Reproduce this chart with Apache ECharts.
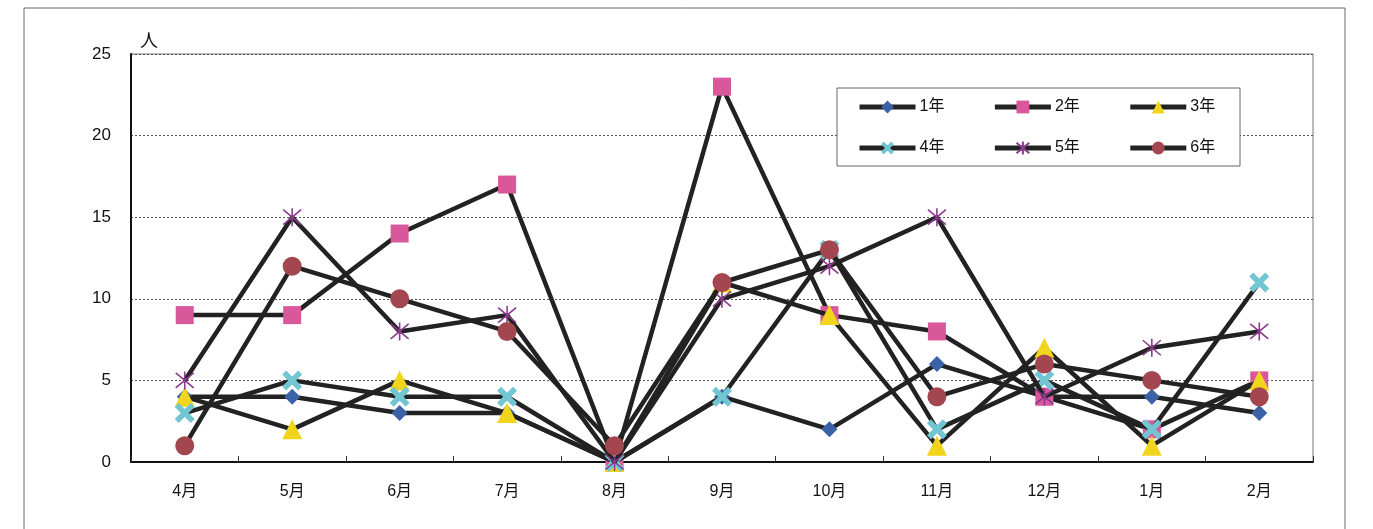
<!DOCTYPE html>
<html><head><meta charset="utf-8">
<script src="https://cdn.jsdelivr.net/npm/echarts@6/dist/echarts.min.js"></script>
<style>html,body{margin:0;padding:0;background:#fff}#c{width:1373px;height:529px}</style>
</head><body><div id="c"></div>
<script>
const months = ['4月','5月','6月','7月','8月','9月','10月','11月','12月','1月','2月'];
const seriesNames = ['1年','2年','3年','4年','5年','6年'];
const g1 = [4,4,3,3,0,4,2,6,4,4,3];
const g2 = [9,9,14,17,0,23,9,8,4,2,5];
const g3 = [4,2,5,3,0,11,9,1,7,1,5];
const g4 = [3,5,4,4,0,4,13,2,5,2,11];
const g5 = [5,15,8,9,0,10,12,15,4,7,8];
const g6 = [1,12,10,8,1,11,13,4,6,5,4];
const yTicks = [0,5,10,15,20,25];

const font = '"Liberation Sans","Noto Sans CJK JP",sans-serif';
const crossPath = 'path://M0,2 L2,0 L5,3 L8,0 L10,2 L7,5 L10,8 L8,10 L5,7 L2,10 L0,8 L3,5 Z';
const starPath = 'path://M0,0 L10,10 M10,0 L0,10 M5,-1 L5,11';
const styles = [
  {symbol:'diamond', size:16, color:'#3b62a6'},
  {symbol:'rect', size:18, color:'#d9579b'},
  {symbol:'triangle', size:20, color:'#f1d51c'},
  {symbol:crossPath, size:20, color:'#72c6d2'},
  {symbol:starPath, size:18, color:'#8b3b8e', stroke:true},
  {symbol:'circle', size:19, color:'#a4464f'}
];
const data = [g1,g2,g3,g4,g5,g6];

const legendBase = {
  orient:'horizontal', left:857, itemWidth:56, itemHeight:16, itemGap:48, padding:0,
  lineStyle:{width:5, color:'#222'},
  textStyle:{fontSize:16, color:'#111', fontFamily:font, padding:[0,0,0,-1]}
};

const chart = echarts.init(document.getElementById('c'));
chart.setOption({
  animation:false,
  backgroundColor:'#fff',
  textStyle:{fontFamily:font},
  graphic:[
    {type:'rect', shape:{x:24,y:8,width:1321,height:540}, style:{fill:'none', stroke:'#666', lineWidth:1}, z:-1},
    {type:'rect', shape:{x:837,y:88,width:403,height:78}, style:{fill:'#fff', stroke:'#666', lineWidth:1}, z:5},
    {type:'text', left:140, top:33, style:{text:'人', font:'18px '+font, fill:'#111'}}
  ],
  grid:{left:131, right:60, top:54, bottom:67, show:true, borderColor:'#777', borderWidth:1},
  legend:[
    Object.assign({}, legendBase, {data:seriesNames.slice(0,3), top:99, z:10}),
    Object.assign({}, legendBase, {data:seriesNames.slice(3), top:140, z:10})
  ],
  xAxis:{type:'category', data:months, boundaryGap:true,
    axisLine:{lineStyle:{color:'#111', width:2}},
    axisTick:{show:true, alignWithLabel:false, length:-6, lineStyle:{color:'#333'}},
    axisLabel:{fontSize:16, color:'#111', margin:22}
  },
  yAxis:{type:'value', min:0, max:25, interval:5,
    axisLine:{show:true, lineStyle:{color:'#111', width:2}},
    axisTick:{show:false},
    axisLabel:{fontSize:17, color:'#111', margin:20, formatter:v=>yTicks.includes(v)?String(v):''},
    splitLine:{lineStyle:{color:'#555', type:[2,2], width:1}}
  },
  series: data.map((d,i)=>({
    name:seriesNames[i], type:'line', data:d,
    symbol:styles[i].symbol, symbolSize:styles[i].size, showAllSymbol:true,
    lineStyle:{color:'#222', width:4.5},
    itemStyle: styles[i].stroke ? {color:styles[i].color, borderColor:styles[i].color, borderWidth:1.6}
                                : {color:styles[i].color, borderWidth:0},
    emphasis:{disabled:true}, z:2+i
  }))
});
</script></body></html>
